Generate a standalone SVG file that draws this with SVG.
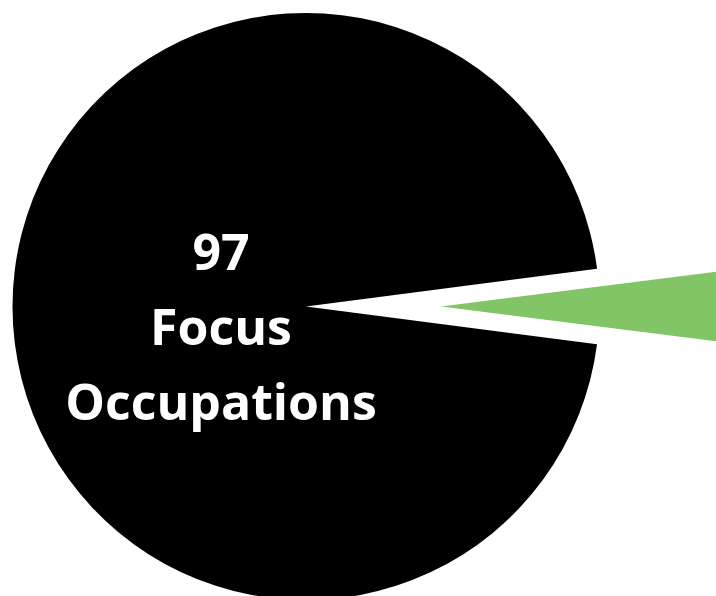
<svg xmlns="http://www.w3.org/2000/svg" width="716" height="596" viewBox="0 0 716 596">
  <style>
    .lbl { font-family: "Open Sans", "Noto Sans", "DejaVu Sans", sans-serif; font-weight: 700; font-size: 50px; fill: #ffffff; text-anchor: middle; }
  </style>
  <rect x="0" y="0" width="716" height="596" fill="#ffffff"/>
  <g id="slice-main">
    <path d="M306,306.5 L597.05,268.7 A293.5,293.5 0 1 0 597.05,344.3 Z" fill="#000000"/>
    <text class="lbl" x="221" y="270">97</text>
    <text class="lbl" x="221" y="345">Focus</text>
    <text class="lbl" x="221" y="420">Occupations</text>
  </g>
  <g id="slice-other">
    <path d="M441,306.5 L732.2,269.7 A293.5,293.5 0 0 1 732.2,343.3 Z" fill="#82C566"/>
  </g>
  <g id="connectors"></g>
</svg>
